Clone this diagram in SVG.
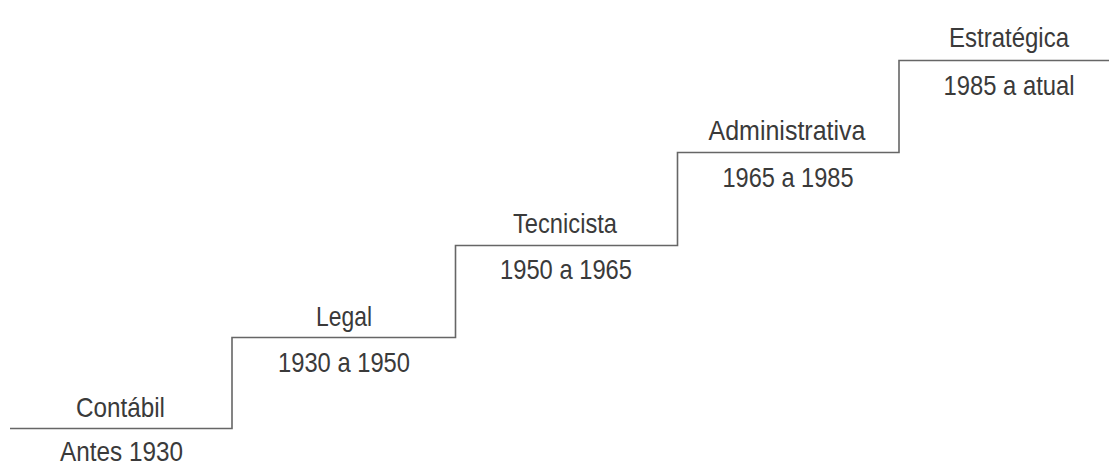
<svg xmlns="http://www.w3.org/2000/svg" width="1109" height="464" viewBox="0 0 1109 464">
<style>
.t{font-family:"Liberation Sans Narrow","Liberation Sans",Arial,sans-serif;font-size:27.5px;fill:#3a3a3a;text-anchor:middle}
.s{fill:none;stroke:#666;stroke-width:1.6}
</style>
<rect width="1109" height="464" fill="#fff"/>
<g id="connectors">
<path class="s" d="M10,428.5 H232 V337.5 H455.5 V245.5 H677.5 V152.5 H899 V60.5 H1109"/>
</g>
<g id="contabil">
<text class="t" x="120.5" y="417" textLength="89" lengthAdjust="spacingAndGlyphs">Contábil</text>
<text class="t" x="121.5" y="460.5" textLength="123" lengthAdjust="spacingAndGlyphs">Antes 1930</text>
</g>
<g id="legal">
<text class="t" x="344" y="325.5" textLength="56" lengthAdjust="spacingAndGlyphs">Legal</text>
<text class="t" x="344" y="371.5" textLength="132" lengthAdjust="spacingAndGlyphs">1930 a 1950</text>
</g>
<g id="tecnicista">
<text class="t" x="565" y="232.5" textLength="104" lengthAdjust="spacingAndGlyphs">Tecnicista</text>
<text class="t" x="566" y="278.5" textLength="132" lengthAdjust="spacingAndGlyphs">1950 a 1965</text>
</g>
<g id="administrativa">
<text class="t" x="787" y="139.5" textLength="157" lengthAdjust="spacingAndGlyphs">Administrativa</text>
<text class="t" x="788" y="186.5" textLength="131" lengthAdjust="spacingAndGlyphs">1965 a 1985</text>
</g>
<g id="estrategica">
<text class="t" x="1009" y="46.5" textLength="120" lengthAdjust="spacingAndGlyphs">Estratégica</text>
<text class="t" x="1009" y="95" textLength="131" lengthAdjust="spacingAndGlyphs">1985 a atual</text>
</g>
</svg>
